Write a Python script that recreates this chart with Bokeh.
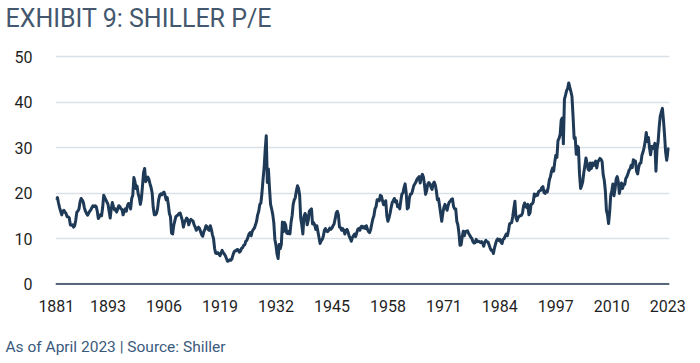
from bokeh.plotting import figure
from bokeh.models import Range1d, FixedTicker, Span, Title
from bokeh.embed import file_html
from bokeh.resources import INLINE

# Shiller CAPE, quarterly readings (Jan, Apr, Jul, Oct)
pe_1880s = [18.5, 19.0, 17.8, 16.8, 16.0, 15.2, 16.0, 16.2, 15.8, 15.5, 14.8, 14.8,
            14.5, 13.0, 12.9, 13.0, 12.5, 12.8, 14.0, 15.8, 16.0, 16.5, 18.0, 18.8,
            18.5, 18.0, 16.8, 16.0, 15.5, 15.1, 15.6, 16.0, 16.3, 16.8, 17.2, 17.0]
pe_1890s = [17.2, 17.0, 16.0, 14.4, 14.8, 15.2, 15.0, 16.8, 19.5, 19.0, 18.5, 18.0,
            17.5, 16.0, 14.5, 16.5, 17.9, 17.0, 16.3, 16.5, 15.8, 16.5, 17.2, 17.0,
            16.5, 16.4, 15.2, 16.0, 16.5, 16.0, 17.2, 17.7, 17.5, 16.5, 18.8, 19.5,
            23.4, 22.5, 21.0, 21.5]
pe_1900s = [19.8, 19.0, 17.5, 18.8, 21.5, 24.5, 25.4, 22.5, 23.0, 23.5, 23.0, 22.0,
            21.2, 20.0, 16.8, 15.2, 15.2, 15.5, 16.5, 18.5, 19.5, 19.8, 19.6, 20.0,
            20.2, 19.5, 18.5, 19.0, 17.5, 15.5, 14.8, 11.2, 11.0, 12.8, 13.8, 14.8,
            15.0, 15.2, 15.5, 15.6]
pe_1910s = [14.8, 14.0, 12.5, 13.5, 14.0, 14.5, 14.2, 13.0, 13.8, 14.2, 14.0, 13.8,
            13.0, 12.5, 11.8, 12.2, 12.5, 12.2, 11.5, 10.8, 10.5, 11.5, 12.0, 12.8,
            12.6, 12.0, 11.8, 12.8, 12.0, 10.8, 10.0, 7.8, 6.8, 6.7, 6.9, 6.6,
            6.2, 6.8, 7.4, 6.9]
pe_1920s = [6.6, 6.2, 5.6, 5.0, 5.1, 5.3, 5.2, 5.5, 6.3, 7.0, 7.3, 7.3,
            7.6, 7.5, 7.0, 7.2, 7.8, 8.0, 8.5, 8.6, 9.4, 9.6, 10.3, 11.0,
            11.3, 10.6, 11.6, 12.0, 12.3, 13.0, 13.8, 15.2, 16.0, 17.5, 17.8, 20.0,
            23.0, 25.5, 29.5, 32.6]
pe_1930s = [22.3, 25.3, 21.0, 17.5, 16.5, 15.3, 13.5, 9.8, 8.5, 6.6, 5.6, 8.7,
            7.8, 8.7, 13.6, 11.5, 13.5, 13.0, 11.2, 11.1, 11.6, 11.0, 13.5, 15.0,
            17.5, 18.5, 19.0, 20.5, 21.6, 21.0, 19.5, 14.5, 13.0, 11.0, 14.8, 15.5,
            15.0, 13.0, 14.0, 16.0]
pe_1940s = [16.3, 16.5, 13.2, 13.5, 13.0, 12.0, 12.8, 11.5, 10.2, 8.9, 9.5, 9.8,
            10.5, 11.8, 12.2, 11.6, 11.5, 11.8, 12.3, 12.0, 12.3, 12.8, 13.2, 14.3,
            15.6, 16.0, 15.2, 12.5, 12.4, 11.8, 12.2, 11.8, 11.0, 11.8, 12.0, 11.4,
            10.5, 10.0, 9.4, 10.2]
pe_1950s = [10.6, 11.0, 10.4, 11.2, 12.0, 12.2, 11.8, 12.6, 12.7, 12.3, 12.6, 12.2,
            12.8, 12.0, 11.5, 11.3, 12.0, 13.2, 14.3, 15.0, 16.5, 17.0, 18.5, 18.5,
            18.3, 19.5, 19.3, 18.3, 17.4, 17.5, 18.3, 15.0, 13.8, 14.5, 15.5, 16.8,
            17.9, 18.3, 18.8, 18.0]
pe_1960s = [18.3, 17.0, 17.3, 16.5, 18.3, 19.8, 20.0, 21.2, 22.0, 20.0, 16.5, 16.8,
            19.0, 19.8, 19.8, 20.6, 21.6, 22.0, 22.4, 23.0, 23.3, 23.6, 22.2, 23.5,
            24.1, 23.5, 21.8, 19.7, 20.5, 21.9, 22.3, 22.0, 21.3, 20.8, 22.0, 22.4,
            21.8, 20.5, 18.5, 18.8]
pe_1970s = [17.2, 15.5, 13.8, 15.5, 16.8, 17.5, 16.8, 16.2, 17.3, 18.0, 18.2, 18.6,
            18.7, 17.0, 16.5, 16.5, 13.8, 13.0, 11.2, 8.5, 8.6, 10.3, 11.6, 10.6,
            11.5, 11.6, 11.7, 11.1, 10.7, 10.3, 10.0, 9.3, 9.0, 9.1, 9.8, 9.3,
            9.4, 9.3, 9.1, 9.3]
pe_1980s = [9.0, 8.3, 9.2, 9.6, 9.3, 9.2, 8.6, 7.9, 7.4, 7.4, 6.7, 7.9,
            8.8, 9.6, 9.9, 9.6, 9.8, 9.2, 8.9, 9.8, 10.0, 10.5, 11.0, 10.6,
            11.7, 13.2, 13.4, 13.5, 14.9, 16.6, 18.2, 14.5, 13.9, 14.6, 14.9, 15.0,
            15.1, 15.6, 17.1, 17.8]
pe_1990s = [17.1, 16.8, 17.5, 15.2, 15.6, 17.5, 17.6, 18.0, 19.8, 19.3, 19.7, 19.5,
            20.3, 20.5, 20.6, 21.2, 21.4, 20.1, 19.9, 20.4, 20.2, 21.3, 22.9, 23.6,
            24.8, 25.5, 24.8, 26.8, 28.3, 27.8, 31.5, 32.0, 32.9, 36.0, 36.5, 30.8,
            40.6, 41.5, 42.5, 43.0]
pe_2000s = [44.2, 43.2, 42.3, 41.2, 36.9, 32.0, 32.2, 28.5, 30.3, 30.0, 24.2, 21.0,
            21.6, 22.5, 24.5, 26.0, 27.7, 26.6, 25.2, 25.0, 26.6, 25.4, 26.6, 26.0,
            26.5, 27.0, 25.5, 26.8, 27.2, 27.6, 27.4, 26.9, 24.0, 22.8, 20.5, 16.2,
            15.2, 13.3, 15.8, 19.5]
pe_2010s = [20.5, 22.0, 19.4, 20.8, 23.0, 23.6, 22.5, 19.9, 21.2, 22.2, 21.0, 21.9,
            21.9, 23.2, 23.6, 24.2, 25.0, 25.3, 26.1, 25.6, 27.3, 27.1, 27.0, 24.8,
            24.2, 25.7, 26.5, 26.6, 28.3, 29.0, 30.0, 31.3, 33.3, 31.3, 32.2, 30.0,
            28.4, 30.2, 29.8, 30.2]
pe_2020s = [30.9, 24.8, 29.6, 31.2, 34.5, 36.9, 37.8, 38.6, 36.0, 32.8, 29.0, 27.2,
            28.9, 30.0]

start_year = 1881
tick_years = [1881, 1893, 1906, 1919, 1932, 1945, 1958, 1971, 1984, 1997, 2010, 2023]
y_ticks = [0, 10, 20, 30, 40, 50]
title_text = "EXHIBIT 9: SHILLER P/E"
footer_text = "As of April 2023 | Source: Shiller"

cape = (pe_1880s + pe_1890s + pe_1900s + pe_1910s + pe_1920s + pe_1930s + pe_1940s
        + pe_1950s + pe_1960s + pe_1970s + pe_1980s + pe_1990s + pe_2000s + pe_2010s
        + pe_2020s)
dates = [start_year + i / 4 for i in range(len(cape))]

p = figure(width=700, height=363, output_backend="svg", toolbar_location=None,
           x_range=Range1d(1880.8, 2023.4), y_range=Range1d(-0.55, 54.4),
           title=title_text,
           min_border_left=55, min_border_right=31, min_border_top=36, min_border_bottom=77)

p.title.text_font = "Roboto"
p.title.text_font_size = "25px"
p.title.text_font_style = "normal"
p.title.text_color = "#43576e"
p.title.align = "left"
p.title.vertical_align = "top"
p.title.offset = -50
p.title.standoff = 4

p.outline_line_color = None
p.background_fill_color = "white"
p.border_fill_color = "white"

p.xgrid.grid_line_color = None
p.ygrid.grid_line_color = "#d9e1e7"
p.ygrid.grid_line_width = 1.5
p.ygrid.ticker = FixedTicker(ticks=y_ticks)

for ax in (p.xaxis, p.yaxis):
    ax.axis_line_color = None
    ax.major_tick_line_color = None
    ax.minor_tick_line_color = None
    ax.major_label_text_font = "Roboto"
    ax.major_label_text_font_size = "16px"
    ax.major_label_text_color = "#1f1f1f"

p.xaxis.ticker = FixedTicker(ticks=tick_years)
p.xaxis.major_label_standoff = 7
p.yaxis.ticker = FixedTicker(ticks=y_ticks)
p.yaxis.major_label_standoff = 17

p.add_layout(Span(location=0, dimension="width", line_color="#56687a", line_width=2))

p.line(dates, cape, line_color="#1f3a57", line_width=3, line_join="round")

# blank spacer between the year labels and the source note
p.add_layout(Title(text=" ", text_font="Roboto", text_font_size="10px", standoff=8), "below")
p.add_layout(Title(text=footer_text, align="left", offset=-50,
                   text_font="Roboto", text_font_size="15.5px", text_font_style="normal",
                   text_color="#3a5a7c", standoff=0), "below")

open("out.html", "w").write(file_html(p, INLINE))
